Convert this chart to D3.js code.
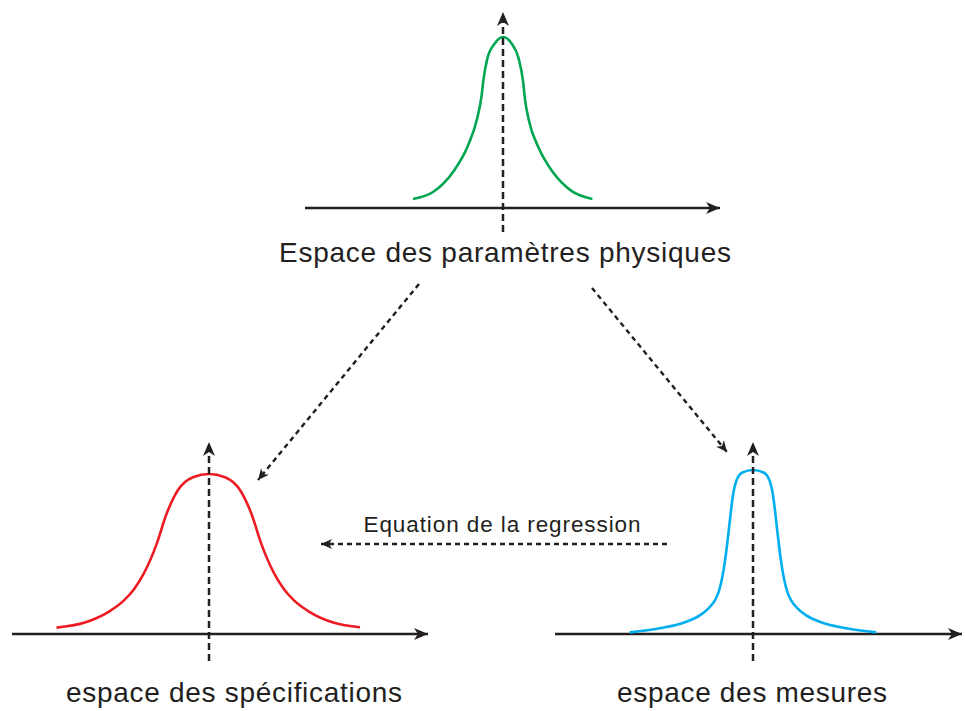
<!DOCTYPE html>
<html>
<head>
<meta charset="utf-8">
<script src="https://cdn.jsdelivr.net/npm/d3@7"></script>
<style>
  body { margin: 0; background: #fff; }
  text { font-family: "Liberation Sans", Arial, sans-serif; fill: #231f20; }
</style>
</head>
<body>
<div id="chart"></div>
<script>
// curve samples: x in spread units, y as share of the peak
var greenX = [-3.0, -2.32, -1.66, -1.16, -0.86, -0.71, -0.66, -0.52, -0.27, 0, 0.28, 0.52, 0.67, 0.73, 0.88, 1.18, 1.66, 2.28, 2.98];
var greenY = [0.053, 0.095, 0.212, 0.368, 0.525, 0.661, 0.739, 0.875, 0.963, 1, 0.963, 0.875, 0.739, 0.64, 0.50, 0.355, 0.21, 0.10, 0.053];

var redX = [-3.05, -2.5, -2.0, -1.7, -1.5, -1.3, -1.05, -0.85, -0.62, -0.32, 0, 0.32, 0.62, 0.85, 1.05, 1.3, 1.5, 1.7, 2.0, 2.5, 3.02];
var redY = [0.04, 0.07, 0.14, 0.21, 0.28, 0.38, 0.56, 0.75, 0.9, 0.98, 1, 0.98, 0.9, 0.75, 0.56, 0.38, 0.28, 0.21, 0.14, 0.07, 0.042];

var blueX = [-3.03, -2.29, -1.64, -1.3, -1.1, -0.95, -0.84, -0.76, -0.68, -0.59, -0.49, -0.40, -0.26, 0,
             0.26, 0.40, 0.49, 0.59, 0.68, 0.76, 0.84, 0.95, 1.1, 1.3, 1.64, 2.29, 3.03];
var blueY = [0.01, 0.035, 0.075, 0.115, 0.155, 0.2, 0.26, 0.34, 0.46, 0.645, 0.85, 0.94, 0.985, 1,
             0.985, 0.94, 0.85, 0.645, 0.46, 0.34, 0.26, 0.2, 0.155, 0.115, 0.075, 0.035, 0.01];

var spaceLabels = ["Espace des paramètres physiques", "espace des spécifications", "espace des mesures"];
var linkLabel = "Equation de la regression";

var width = 965, height = 711;
var ink = "#231f20";

var svg = d3.select("#chart").append("svg")
    .attr("width", width)
    .attr("height", height);

var defs = svg.append("defs");

function addHead(id, len, half) {
    defs.append("marker")
        .attr("id", id)
        .attr("markerUnits", "userSpaceOnUse")
        .attr("viewBox", (-len - 1) + " " + (-half - 1) + " " + (len + 2) + " " + (2 * half + 2))
        .attr("markerWidth", len + 2)
        .attr("markerHeight", 2 * half + 2)
        .attr("refX", 0)
        .attr("refY", 0)
        .attr("orient", "auto")
        .append("path")
        .attr("d", "M0,0 L" + (-len) + "," + (-half) + " L" + (-len * 0.72) + ",0 L" + (-len) + "," + half + " Z")
        .attr("fill", ink);
}
addHead("head", 14, 6);
addHead("headSmall", 11, 5);

// panel layout
var panels = [
    { xs: greenX, ys: greenY, color: "#00a651", cx: 503, unit: 30, base: 208, peak: 37,
      axisL: 305, axisR: 724, vTop: 8, vBot: 232, label: spaceLabels[0], lx: 505, ly: 262, lw: 452 },
    { xs: redX, ys: redY, color: "#ed1c24", cx: 209, unit: 50, base: 634, peak: 474,
      axisL: 12, axisR: 432, vTop: 438, vBot: 661, label: spaceLabels[1], lx: 234, ly: 702, lw: 336 },
    { xs: blueX, ys: blueY, color: "#00aeef", cx: 753, unit: 40.67, base: 634, peak: 470,
      axisL: 555, axisR: 966, vTop: 438, vBot: 661, label: spaceLabels[2], lx: 752, ly: 702, lw: 270 }
];

panels.forEach(function(p) {
    var x = d3.scaleLinear()
        .domain([-3, 3])
        .range([p.cx - 3 * p.unit, p.cx + 3 * p.unit]);
    var y = d3.scaleLinear()
        .domain([0, 1])
        .range([p.base, p.peak]);

    var g = svg.append("g");

    // horizontal axis
    g.append("line")
        .attr("x1", p.axisL).attr("x2", p.axisR - 4)
        .attr("y1", y(0)).attr("y2", y(0))
        .attr("stroke", ink)
        .attr("stroke-width", 2.4)
        .attr("marker-end", "url(#head)");

    // density curve
    var pts = p.xs.map(function(v, i) { return [v, p.ys[i]]; });
    var line = d3.line()
        .x(function(d) { return x(d[0]); })
        .y(function(d) { return y(d[1]); })
        .curve(d3.curveMonotoneX);
    g.append("path")
        .datum(pts)
        .attr("d", line)
        .attr("fill", "none")
        .attr("stroke", p.color)
        .attr("stroke-width", 2.6);

    // vertical dashed axis
    g.append("line")
        .attr("x1", x(0)).attr("x2", x(0))
        .attr("y1", p.vBot).attr("y2", p.vTop + 4)
        .attr("stroke", ink)
        .attr("stroke-width", 2.5)
        .attr("stroke-dasharray", "7,4")
        .attr("marker-end", "url(#head)");

    g.append("text")
        .attr("x", p.lx)
        .attr("y", p.ly)
        .attr("text-anchor", "middle")
        .attr("font-size", 28)
        .attr("textLength", p.lw)
        .attr("lengthAdjust", "spacing")
        .text(p.label);
});

// dotted links between the spaces
var links = [
    { x1: 419, y1: 284, x2: 258, y2: 480 },
    { x1: 592, y1: 288, x2: 727, y2: 452 },
    { x1: 667, y1: 544, x2: 321, y2: 544 }
];
svg.selectAll(".link")
    .data(links)
    .enter().append("line")
    .attr("class", "link")
    .attr("x1", function(d) { return d.x1; })
    .attr("y1", function(d) { return d.y1; })
    .attr("x2", function(d) { return d.x2; })
    .attr("y2", function(d) { return d.y2; })
    .attr("stroke", ink)
    .attr("stroke-width", 2.4)
    .attr("stroke-dasharray", "5,4")
    .attr("marker-end", "url(#headSmall)");

svg.append("text")
    .attr("x", 502)
    .attr("y", 532)
    .attr("text-anchor", "middle")
    .attr("font-size", 22.5)
    .attr("textLength", 277)
    .attr("lengthAdjust", "spacing")
    .text(linkLabel);
</script>
</body>
</html>
